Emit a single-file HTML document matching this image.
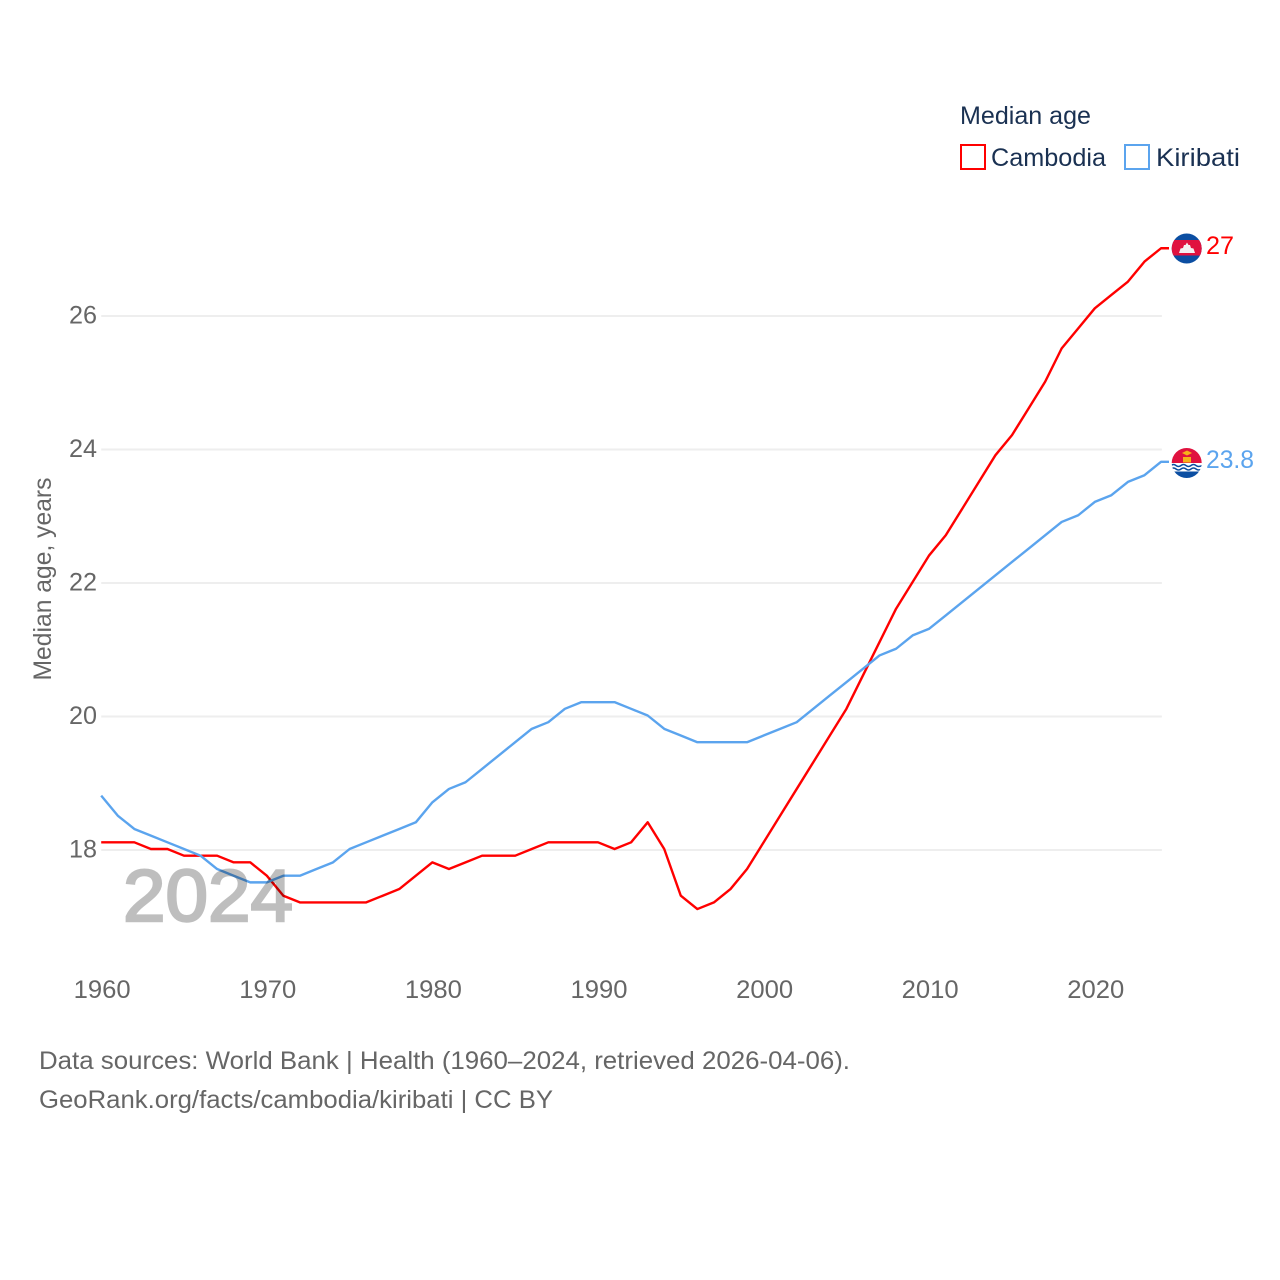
<!DOCTYPE html>
<html lang="en">
<head>
<meta charset="utf-8">
<title>Median age: Cambodia and Kiribati</title>
<style>
html,body{margin:0;padding:0;background:#fff;width:1280px;height:1280px;overflow:hidden}
svg{display:block}
text{font-family:"Liberation Sans",sans-serif}
</style>
</head>
<body>
<svg id="chart" xmlns="http://www.w3.org/2000/svg" width="1280" height="1280" viewBox="0 0 1280 1280">
  <g id="grid"></g>
  <g id="yticks"></g>
  <g id="xticks"></g>
  <text transform="translate(51,579) rotate(-90)" text-anchor="middle" font-size="25" fill="#666" textLength="203" lengthAdjust="spacingAndGlyphs">Median age, years</text>
  <g id="series"></g>
  <text x="123" y="921" font-size="73" font-weight="400" fill="#000" stroke="#000" stroke-width="2.4" opacity="0.25" textLength="170" lengthAdjust="spacingAndGlyphs">2024</text>

  <defs>
    <clipPath id="flag-clip-kh"><circle cx="1186.7" cy="248.5" r="15"/></clipPath>
    <clipPath id="flag-clip-ki"><circle cx="1186.7" cy="463" r="15"/></clipPath>
  </defs>
  <g id="flag-cambodia" clip-path="url(#flag-clip-kh)">
    <rect x="1171" y="232" width="32" height="32" fill="#0b4ea2"/>
    <rect x="1171" y="240" width="32" height="15.5" fill="#e0123f"/>
    <path d="M1179 253 L1180.5 248.5 L1183 248 L1184 245 L1185.5 245 L1187 242.5 L1188.5 245 L1190 245 L1191 248 L1193.5 248.5 L1195 253 Z" fill="#f4f1f1"/>
  </g>
  <g id="flag-kiribati" clip-path="url(#flag-clip-ki)">
    <rect x="1171" y="447" width="32" height="16" fill="#e0123f"/>
    <rect x="1171" y="463" width="32" height="10" fill="#fff"/>
    <rect x="1171" y="471.5" width="32" height="8" fill="#0b4ea2"/>
    <path d="M1171 465.5 q2.5 -2 5 0 t5 0 t5 0 t5 0 t5 0 t6 0" fill="none" stroke="#0b4ea2" stroke-width="1.5"/>
    <path d="M1171 469 q2.5 -2 5 0 t5 0 t5 0 t5 0 t5 0 t6 0" fill="none" stroke="#0b4ea2" stroke-width="1.5"/>
    <rect x="1183" y="457" width="8" height="5.5" fill="#f6b21a"/>
    <path d="M1182 453 L1187 450.5 L1192 453 L1187 455.5 Z" fill="#f6b21a"/>
  </g>
  <text id="label-cambodia" x="1206" y="254" font-size="25" fill="#ff0000" textLength="28" lengthAdjust="spacingAndGlyphs"></text>
  <text id="label-kiribati" x="1206" y="468" font-size="25" fill="#5ba4ee" textLength="48" lengthAdjust="spacingAndGlyphs"></text>

  <g>
    <text x="960" y="124" font-size="25" fill="#1a3152" textLength="131" lengthAdjust="spacingAndGlyphs">Median age</text>
    <rect x="961" y="145" width="24" height="24" fill="#fff" stroke="#ff0000" stroke-width="2"/>
    <text x="991" y="166" font-size="25" fill="#1a3152" textLength="115" lengthAdjust="spacingAndGlyphs">Cambodia</text>
    <rect x="1125" y="145" width="24" height="24" fill="#fff" stroke="#5ba4ee" stroke-width="2"/>
    <text x="1156" y="166" font-size="25" fill="#1a3152" textLength="84" lengthAdjust="spacingAndGlyphs">Kiribati</text>
  </g>

  <text x="39" y="1069" font-size="25" fill="#666" textLength="811" lengthAdjust="spacingAndGlyphs">Data sources: World Bank | Health (1960–2024, retrieved 2026-04-06).</text>
  <text x="39" y="1108" font-size="25" fill="#666" textLength="514" lengthAdjust="spacingAndGlyphs">GeoRank.org/facts/cambodia/kiribati | CC BY</text>
</svg>
<script>
const startYear = 1960;
const cambodiaValues = [18.1,18.1,18.1,18.0,18.0,17.9,17.9,17.9,17.8,17.8,17.6,17.3,17.2,17.2,17.2,17.2,17.2,17.3,17.4,17.6,17.8,17.7,17.8,17.9,17.9,17.9,18.0,18.1,18.1,18.1,18.1,18.0,18.1,18.4,18.0,17.3,17.1,17.2,17.4,17.7,18.1,18.5,18.9,19.3,19.7,20.1,20.6,21.1,21.6,22.0,22.4,22.7,23.1,23.5,23.9,24.2,24.6,25.0,25.5,25.8,26.1,26.3,26.5,26.8,27.0];
const kiribatiValues = [18.8,18.5,18.3,18.2,18.1,18.0,17.9,17.7,17.6,17.5,17.5,17.6,17.6,17.7,17.8,18.0,18.1,18.2,18.3,18.4,18.7,18.9,19.0,19.2,19.4,19.6,19.8,19.9,20.1,20.2,20.2,20.2,20.1,20.0,19.8,19.7,19.6,19.6,19.6,19.6,19.7,19.8,19.9,20.1,20.3,20.5,20.7,20.9,21.0,21.2,21.3,21.5,21.7,21.9,22.1,22.3,22.5,22.7,22.9,23.0,23.2,23.3,23.5,23.6,23.8];
const yTickValues = [18,20,22,24,26];
const xTickValues = [1960,1970,1980,1990,2000,2010,2020];

const NS = 'http://www.w3.org/2000/svg';
function xScale(year){ return 101.2 + (year - 1960) * 16.56; }
function yScale(v){ return 849 - (v - 18) * 66.75; }
function make(tag, attrs, parent, txt){
  const el = document.createElementNS(NS, tag);
  for (const k in attrs) el.setAttribute(k, attrs[k]);
  if (txt !== undefined) el.textContent = txt;
  parent.appendChild(el);
  return el;
}
const gridG = document.getElementById('grid');
const yG = document.getElementById('yticks');
const xG = document.getElementById('xticks');
const seriesG = document.getElementById('series');

yTickValues.forEach(function(t){
  const line = make('line', {x1:xScale(startYear), x2:xScale(2024)+0.8, y1:yScale(t)+1, y2:yScale(t)+1, stroke:'#eeeeee', 'stroke-width':2}, gridG);
  
  
  const label = make('text', {x:97, y:yScale(t)+8.5, 'text-anchor':'end', 'font-size':25, fill:'#666', textLength:28, lengthAdjust:'spacingAndGlyphs'}, yG, String(t));
  
  
});
xTickValues.forEach(function(t){
  const label = make('text', {x:xScale(t)+1, y:998, 'text-anchor':'middle', 'font-size':25, fill:'#666', textLength:57, lengthAdjust:'spacingAndGlyphs'}, xG, String(t));
  
  
});
function drawSeries(values, color, name){
  const pts = values.map(function(v, i){ return xScale(startYear + i).toFixed(2) + ',' + yScale(v).toFixed(2); });
  const lastY = yScale(values[values.length - 1]).toFixed(2);
  pts.push('1169,' + lastY);
  const line = make('polyline', {points:pts.join(' '), fill:'none', stroke:color, 'stroke-width':2.4, 'stroke-linejoin':'round'}, seriesG);
  
  
}
drawSeries(cambodiaValues, '#ff0000', 'cambodia');
drawSeries(kiribatiValues, '#5ba4ee', 'kiribati');

document.getElementById('label-cambodia').textContent = String(cambodiaValues[cambodiaValues.length - 1]);
document.getElementById('label-kiribati').textContent = String(kiribatiValues[kiribatiValues.length - 1]);
document.getElementById('flag-cambodia').setAttribute('transform', 'translate(0,' + (yScale(cambodiaValues[cambodiaValues.length - 1]) - 248.25) + ')');
document.getElementById('flag-kiribati').setAttribute('transform', 'translate(0,' + (yScale(kiribatiValues[kiribatiValues.length - 1]) - 461.85) + ')');
</script>
</body>
</html>
